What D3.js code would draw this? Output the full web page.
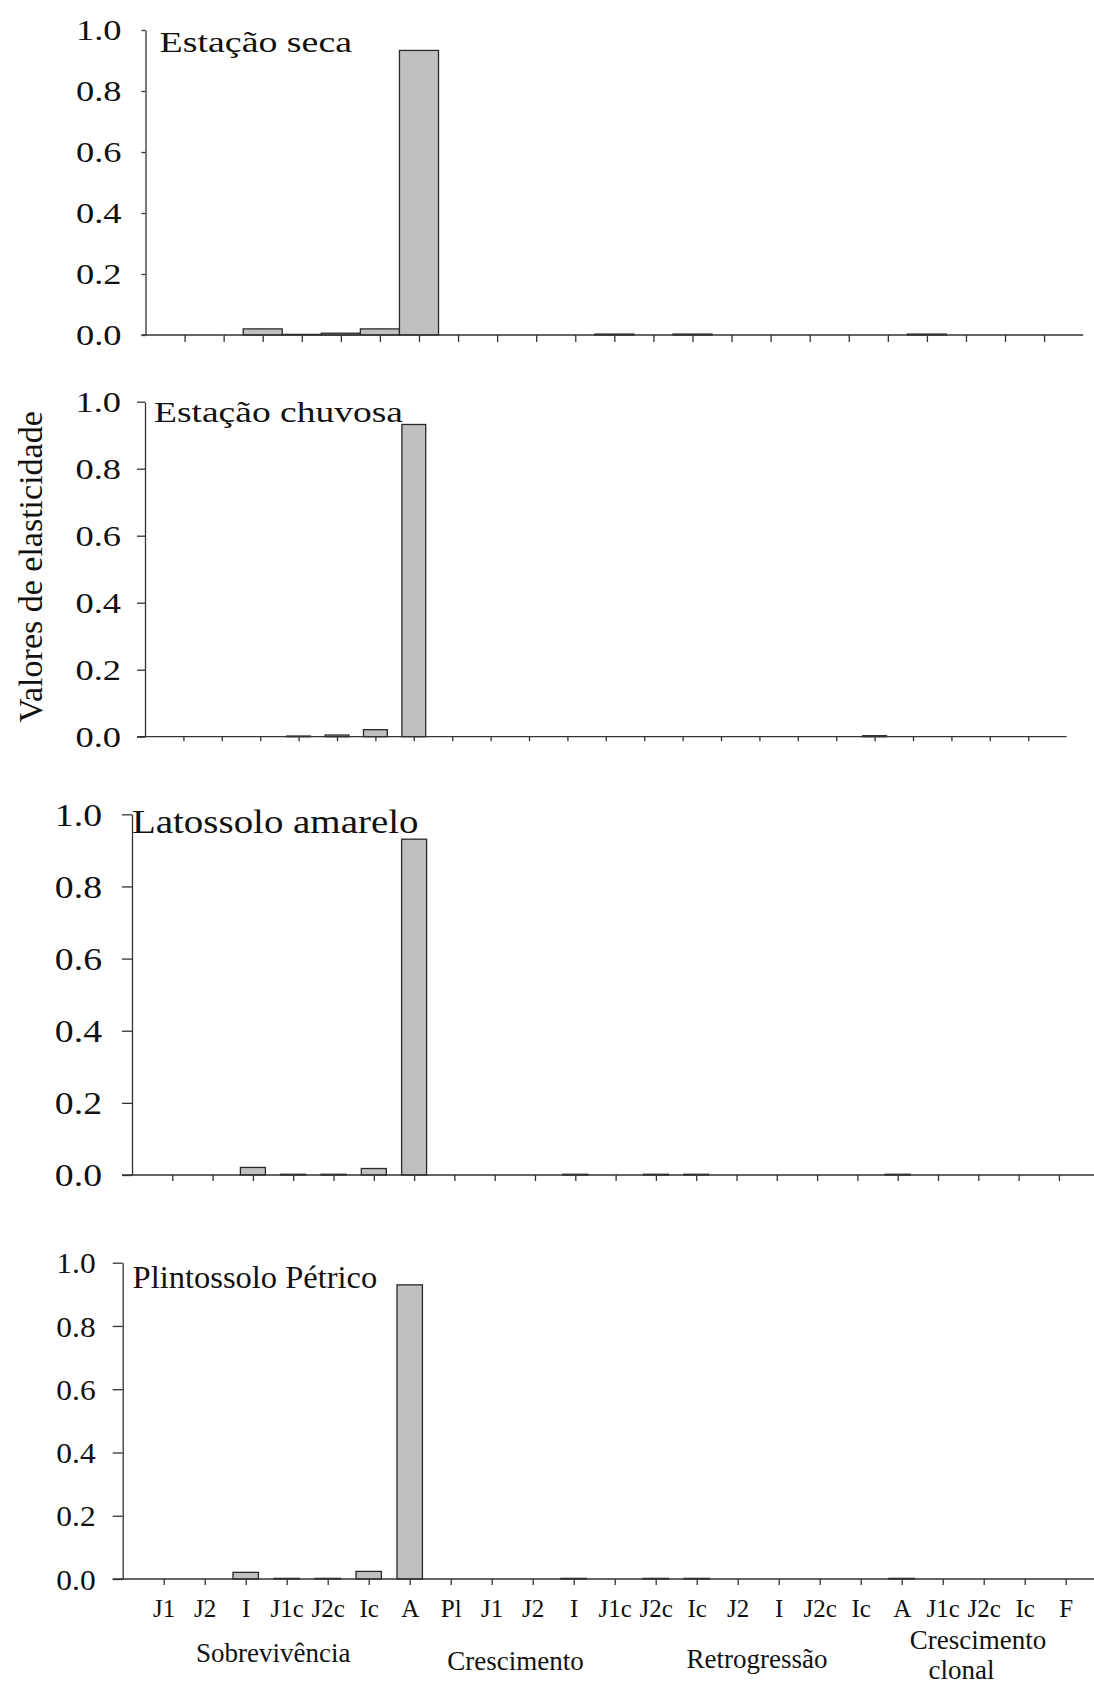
<!DOCTYPE html>
<html>
<head>
<meta charset="utf-8">
<script src="https://cdn.jsdelivr.net/npm/d3@7"></script>
<style>
  html, body { margin: 0; padding: 0; background: #fff; }
  svg { display: block; }
  text { font-family: "Liberation Serif", "Times New Roman", serif; fill: #111; }
</style>
</head>
<body>
<svg id="chart" width="1094" height="1687"></svg>
<script>
// Matrix entries (transitions) shown on the x axis, grouped by vital rate
const categories = ["J1","J2","I","J1c","J2c","Ic","A",
                    "Pl","J1","J2","I","J1c","J2c","Ic",
                    "J2","I","J2c","Ic","A",
                    "J1c","J2c","Ic","F"];
const groupNames = ["Sobrevivência", "Crescimento", "Retrogressão", "Crescimento clonal"];
const panelTitles = ["Estação seca", "Estação chuvosa", "Latossolo amarelo", "Plintossolo Pétrico"];
const yTickValues = [0, 0.2, 0.4, 0.6, 0.8, 1.0];
const yAxisTitle = "Valores de elasticidade";

// Elasticity values, one per category
const estacaoSeca = [0, 0, 0.020, 0.002, 0.006, 0.020, 0.933,
                     0, 0, 0, 0, 0.003, 0, 0.003,
                     0, 0, 0, 0, 0,
                     0.003, 0, 0, 0];
const estacaoChuvosa = [0, 0, 0, 0.002, 0.005, 0.021, 0.932,
                        0, 0, 0, 0, 0, 0, 0,
                        0, 0, 0, 0, 0.003,
                        0, 0, 0, 0];
const latossoloAmarelo = [0, 0, 0.021, 0.002, 0.002, 0.018, 0.931,
                          0, 0, 0, 0.002, 0, 0.002, 0.002,
                          0, 0, 0, 0, 0.002,
                          0, 0, 0, 0];
const plintossoloPetrico = [0, 0, 0.021, 0.002, 0.002, 0.024, 0.930,
                            0, 0, 0, 0.002, 0, 0.002, 0.002,
                            0, 0, 0, 0, 0.002,
                            0, 0, 0, 0];

const seriesList = [estacaoSeca, estacaoChuvosa, latossoloAmarelo, plintossoloPetrico];

// Panel geometry and typography (each panel has its own proportions)
const layout = [
  { left: 145.5, unit: 39.07, top: 30,    bottom: 335,   barFrac: 1.0,
    tickFont: 28.5, tickSx: 1.28, labelGap: 24, yTick: 4,  xTick: 7,
    titleX: 159.6, titleY: 52.3,  titleFont: 28.5, titleSx: 1.33 },
  { left: 145,   unit: 38.4,  top: 401.7, bottom: 736.7, barFrac: 0.62,
    tickFont: 28.5, tickSx: 1.28, labelGap: 24, yTick: 8,  xTick: 4.5,
    titleX: 154,   titleY: 421.7, titleFont: 28.5, titleSx: 1.317 },
  { left: 132,   unit: 40.3,  top: 814.3, bottom: 1175,  barFrac: 0.62,
    tickFont: 32,   tickSx: 1.18, labelGap: 30, yTick: 10, xTick: 6,
    titleX: 132,   titleY: 833.3, titleFont: 33,   titleSx: 1.18 },
  { left: 122.7, unit: 41.0,  top: 1262.7, bottom: 1579, barFrac: 0.62,
    tickFont: 30,   tickSx: 1.05, labelGap: 27, yTick: 10, xTick: 6,
    titleX: 132.6, titleY: 1288.3, titleFont: 32.5, titleSx: 1.0 }
];

// Group caption placement along the bottom axis (in axis units) and baselines
const groupLabelLayout = [
  { lines: [{ u: 3.67,  y: 1662 }] },
  { lines: [{ u: 9.58,  y: 1670 }] },
  { lines: [{ u: 15.47, y: 1668 }] },
  { lines: [{ u: 20.86, y: 1649 }, { u: 20.46, y: 1679 }] }
];

const AXIS = "#333";
const BAR_FILL = "#c0c0c0";
const BAR_STROKE = "#2a2a2a";

const svg = d3.select("#chart");
const nUnits = categories.length + 1; // categories sit at 1..23, axis runs 0..24

layout.forEach((p, k) => {
  const values = seriesList[k];
  const g = svg.append("g");

  const x = d3.scaleLinear()
    .domain([0, nUnits])
    .range([p.left, p.left + nUnits * p.unit]);
  const y = d3.scaleLinear()
    .domain([0, 1])
    .range([p.bottom, p.top]);

  // bars
  const bw = p.barFrac * (x(1) - x(0));
  g.append("g").selectAll("rect")
    .data(values.map((v, i) => ({ v, i })).filter(d => d.v > 0))
    .join("rect")
      .attr("x", d => x(d.i + 1) - bw / 2)
      .attr("width", bw)
      .attr("y", d => y(d.v))
      .attr("height", d => y(0) - y(d.v))
      .attr("fill", BAR_FILL)
      .attr("stroke", BAR_STROKE)
      .attr("stroke-width", 1.3);

  // y axis
  const yAxisG = g.append("g")
    .attr("transform", `translate(${x(0)},0)`)
    .call(d3.axisLeft(y)
      .tickValues(yTickValues)
      .tickFormat(d3.format(".1f"))
      .tickSize(p.yTick)
      .tickSizeOuter(0))
    .attr("font-family", null)
    .attr("font-size", null);
  yAxisG.select(".domain").attr("stroke", AXIS).attr("stroke-width", 1.3);
  yAxisG.selectAll(".tick line").attr("stroke", AXIS).attr("stroke-width", 1.3);
  yAxisG.selectAll(".tick text")
    .attr("x", -p.labelGap / p.tickSx)
    .attr("dy", "0.34em")
    .attr("transform", `scale(${p.tickSx},1)`)
    .style("font-size", p.tickFont + "px")
    .attr("fill", "#111");

  // x axis: baseline extends left to meet the y ticks
  const isBottom = k === layout.length - 1;
  const xAxisG = g.append("g")
    .attr("transform", `translate(0,${y(0)})`)
    .call(d3.axisBottom(x)
      .tickValues(d3.range(1, categories.length + 1))
      .tickFormat(i => isBottom ? categories[i - 1] : "")
      .tickSize(p.xTick)
      .tickPadding(14)
      .tickSizeOuter(0))
    .attr("font-family", null)
    .attr("font-size", null);
  xAxisG.select(".domain").remove();
  xAxisG.append("line")
    .attr("x1", x(0) - p.yTick)
    .attr("x2", x(nUnits))
    .attr("stroke", AXIS)
    .attr("stroke-width", 1.3);
  xAxisG.selectAll(".tick line").attr("stroke", AXIS).attr("stroke-width", 1.3);
  xAxisG.selectAll(".tick text")
    .style("font-size", "25px")
    .attr("fill", "#111");

  // panel title
  g.append("text")
    .attr("transform", `translate(${p.titleX},${p.titleY}) scale(${p.titleSx},1)`)
    .style("font-size", p.titleFont + "px")
    .text(panelTitles[k]);

  // group captions under the bottom panel
  if (isBottom) {
    groupNames.forEach((name, gi) => {
      const parts = groupLabelLayout[gi].lines.length > 1 ? name.split(" ") : [name];
      groupLabelLayout[gi].lines.forEach((ln, li) => {
        g.append("text")
          .attr("x", x(ln.u))
          .attr("y", ln.y)
          .attr("text-anchor", "middle")
          .style("font-size", "27px")
          .text(parts[li]);
      });
    });
  }
});

// shared y-axis title
svg.append("text")
  .attr("transform", "translate(42,567) rotate(-90)")
  .attr("text-anchor", "middle")
  .style("font-size", "34px")
  .text(yAxisTitle);
</script>
</body>
</html>
